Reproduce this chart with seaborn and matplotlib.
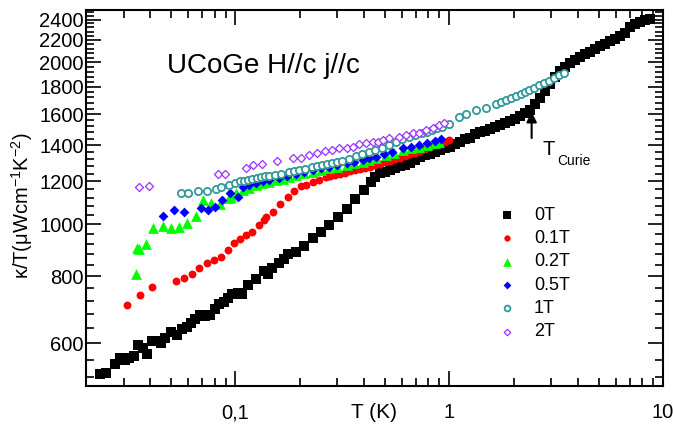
import numpy as np
import matplotlib
matplotlib.use('Agg')
import matplotlib.pyplot as plt
import matplotlib.ticker as mticker
import seaborn as sns

# values (T in K, kappa/T in uW cm^-1 K^-2)
T_0T = [0.02315, 0.02487, 0.02729, 0.02879, 0.03040, 0.03172, 0.03348, 0.03495, 0.03688, 0.03868,
        0.04050, 0.04228, 0.04462, 0.04674, 0.04969, 0.05341, 0.05635, 0.05946, 0.06229, 0.06502,
        0.06863, 0.07242, 0.07642, 0.08004, 0.08356, 0.08818, 0.09244, 0.09652, 0.1025, 0.1070,
        0.1150, 0.1249, 0.1356, 0.1419, 0.1489, 0.1606, 0.1694, 0.1755, 0.1921, 0.2101,
        0.2297, 0.2514, 0.2750, 0.3030, 0.3312, 0.3637, 0.4006, 0.4319, 0.4510, 0.4760,
        0.5022, 0.5302, 0.5595, 0.5902, 0.6229, 0.6573, 0.6937, 0.7320, 0.7725, 0.8151,
        0.8602, 0.9078, 0.9579, 1.011, 1.067, 1.126, 1.188, 1.254, 1.323, 1.396,
        1.473, 1.554, 1.641, 1.731, 1.827, 1.928, 2.034, 2.147, 2.265, 2.390,
        2.522, 2.662, 2.809, 2.965, 3.128, 3.301, 3.484, 3.676, 3.880, 4.094,
        4.321, 4.560, 4.811, 5.077, 5.358, 5.653, 5.966, 6.296, 6.643, 7.011,
        7.398, 7.806, 8.238, 8.694]
K_0T = [526, 529, 549, 563, 559, 564, 569, 596, 588, 573,
        606, 606, 600, 613, 631, 622, 637, 643, 655, 665,
        677, 675, 677, 694, 710, 717, 728, 741, 743, 740,
        770, 789, 818, 807, 828, 848, 860, 880, 886, 911,
        941, 966, 996, 1032, 1066, 1111, 1157, 1197, 1225, 1244,
        1252, 1263, 1271, 1282, 1290, 1301, 1315, 1332, 1344, 1352,
        1361, 1373, 1384, 1393, 1408, 1424, 1439, 1448, 1470, 1480,
        1489, 1502, 1515, 1528, 1541, 1554, 1571, 1588, 1608, 1632,
        1671, 1715, 1767, 1821, 1876, 1925, 1958, 1992, 2018, 2044,
        2070, 2092, 2115, 2142, 2165, 2188, 2212, 2236, 2265, 2323,
        2359, 2379, 2394, 2404]

T_01T = [0.03118, 0.03571, 0.04080, 0.05283, 0.05734, 0.06249, 0.06788, 0.07343, 0.07918, 0.08575,
         0.09205, 0.09893, 0.1052, 0.1122, 0.1192, 0.1295, 0.1366, 0.1392, 0.1494, 0.1618,
         0.1755, 0.1887, 0.2028, 0.2135, 0.2297, 0.2468, 0.2653, 0.2779, 0.2934, 0.3096,
         0.3266, 0.3447, 0.3637, 0.3838, 0.4050, 0.4273, 0.4510, 0.4760, 0.5022, 0.5302,
         0.5595, 0.5902, 0.6229, 0.6573, 0.6937, 0.7320, 0.7725, 0.8151, 0.8602, 0.9078,
         0.9579, 1.0]
K_01T = [707, 738, 763, 784, 793, 807, 830, 845, 857, 868,
         895, 923, 938, 954, 968, 996, 1017, 1032, 1054, 1089,
         1124, 1154, 1177, 1182, 1198, 1207, 1221, 1227, 1233, 1240,
         1247, 1253, 1260, 1266, 1272, 1279, 1287, 1294, 1303, 1311,
         1321, 1329, 1338, 1348, 1358, 1368, 1379, 1390, 1401, 1413,
         1424, 1433]

T_02T = [0.03436, 0.03473, 0.03552, 0.03808, 0.04129, 0.04575, 0.05012, 0.05474, 0.05965, 0.06523,
         0.07047, 0.07725, 0.08510, 0.09305, 0.09548, 0.1011, 0.1082, 0.1162, 0.1249, 0.1337,
         0.1442, 0.1554, 0.1663, 0.1788, 0.1921, 0.2101, 0.2297, 0.2522, 0.2750, 0.2997,
         0.3312, 0.3598, 0.3935, 0.4229, 0.4545, 0.5060, 0.5534, 0.6050, 0.6643, 0.7242,
         0.7893, 0.8602, 0.8983]
K_02T = [809, 904, 897, 917, 982, 992, 983, 987, 1003, 1037,
         1110, 1093, 1088, 1116, 1124, 1142, 1157, 1169, 1182, 1190,
         1199, 1206, 1212, 1223, 1233, 1242, 1251, 1260, 1269, 1278,
         1287, 1297, 1305, 1315, 1325, 1344, 1358, 1373, 1383, 1392,
         1402, 1414, 1422]

T_05T = [0.04575, 0.05160, 0.05746, 0.06938, 0.07477, 0.08064, 0.08647, 0.09426, 0.1025, 0.1084,
         0.1162, 0.1253, 0.1344, 0.1442, 0.1606, 0.1750, 0.1928, 0.2101, 0.2297, 0.2522,
         0.2750, 0.2997, 0.3312, 0.3598, 0.3935, 0.4229, 0.4545, 0.4969, 0.5416, 0.6050,
         0.6643, 0.7242, 0.7893, 0.8602, 0.9176]
K_05T = [1036, 1064, 1053, 1069, 1062, 1077, 1110, 1142, 1124, 1172,
         1182, 1192, 1200, 1206, 1216, 1228, 1241, 1249, 1260, 1269,
         1278, 1287, 1297, 1305, 1315, 1325, 1334, 1349, 1364, 1382,
         1390, 1402, 1414, 1429, 1441]

T_1T = [0.05593, 0.06031, 0.06715, 0.07358, 0.08151, 0.08602, 0.09305, 0.1000, 0.1055, 0.1102,
        0.1150, 0.1201, 0.1267, 0.1323, 0.1381, 0.1442, 0.1538, 0.1641, 0.1788, 0.1887,
        0.1991, 0.2125, 0.2290, 0.2416, 0.2549, 0.2692, 0.2840, 0.2997, 0.3162, 0.3409,
        0.3677, 0.3922, 0.4229, 0.4510, 0.4863, 0.5244, 0.5654, 0.6030, 0.6503, 0.6937,
        0.7476, 0.7893, 0.8329, 0.8788, 0.9275, 1.0, 1.1136, 1.2005, 1.3373, 1.4892,
        1.6585, 1.750, 1.8466, 1.949, 2.0565, 2.170, 2.265, 2.3645, 2.495, 2.634,
        2.779, 2.933, 3.095, 3.266, 3.446]
K_1T = [1142, 1144, 1152, 1153, 1164, 1170, 1182, 1194, 1200, 1205,
        1210, 1213, 1218, 1223, 1228, 1231, 1236, 1241, 1249, 1255,
        1260, 1268, 1276, 1282, 1287, 1293, 1298, 1304, 1312, 1324,
        1338, 1349, 1364, 1375, 1387, 1405, 1424, 1439, 1454, 1463,
        1476, 1486, 1495, 1508, 1518, 1538, 1581, 1601, 1629, 1646,
        1675, 1687, 1700, 1716, 1733, 1748, 1761, 1774, 1793, 1812,
        1828, 1844, 1868, 1892, 1908]

T_2T = [0.03532, 0.03935, 0.08283, 0.08981, 0.1122, 0.1214, 0.1327, 0.1563, 0.1853, 0.2019,
        0.2201, 0.2411, 0.2628, 0.2834, 0.3062, 0.3312, 0.3532, 0.3797, 0.4080, 0.4382,
        0.4624, 0.4879, 0.5244, 0.5840, 0.6275, 0.6738, 0.7242, 0.7782, 0.8356, 0.8983,
        0.9476]
K_2T = [1172, 1175, 1238, 1240, 1269, 1286, 1294, 1309, 1328, 1328,
        1344, 1353, 1365, 1373, 1383, 1383, 1392, 1408, 1413, 1422,
        1422, 1433, 1443, 1453, 1463, 1474, 1478, 1495, 1511, 1528,
        1539]

x_ticks = [0.1, 1, 10]
x_tick_labels = ['0,1', '1', '10']
y_ticks = [600, 800, 1000, 1200, 1400, 1600, 1800, 2000, 2200, 2400]
y_minor = [v for v in range(520, 2500, 40) if v not in y_ticks]
T_curie = 2.43

sns.set_style('ticks')
plt.rcParams['font.family'] = ['Liberation Sans', 'DejaVu Sans']
plt.rcParams['mathtext.fontset'] = 'custom'
plt.rcParams['mathtext.rm'] = 'Liberation Sans'
plt.rcParams['mathtext.it'] = 'Liberation Sans:italic'
plt.rcParams['mathtext.bf'] = 'Liberation Sans:bold'
plt.rcParams['text.color'] = 'black'
plt.rcParams['axes.labelcolor'] = 'black'
plt.rcParams['xtick.color'] = 'black'
plt.rcParams['ytick.color'] = 'black'

fig = plt.figure(figsize=(6.73, 4.30), dpi=100)
ax = fig.add_axes([0.1278, 0.1023, 0.8573, 0.8744])

sns.scatterplot(x=T_0T, y=K_0T, marker='s', s=50, color='black', edgecolor='black', linewidth=0, label='0T', ax=ax)
sns.scatterplot(x=T_01T, y=K_01T, marker='o', s=32, color='#ff0000', edgecolor='#ff0000', linewidth=0, label='0.1T', ax=ax)
sns.scatterplot(x=T_02T, y=K_02T, marker='^', s=60, color='#00ff00', edgecolor='#00ff00', linewidth=0, label='0.2T', ax=ax)
sns.scatterplot(x=T_05T, y=K_05T, marker='D', s=25, color='#0000ff', edgecolor='#0000ff', linewidth=0, label='0.5T', ax=ax)
sns.scatterplot(x=T_1T, y=K_1T, marker='o', s=27, color='white', edgecolor='#339999', linewidth=1.3, label='1T', ax=ax)
sns.scatterplot(x=T_2T, y=K_2T, marker='D', s=17, color='white', edgecolor='#9933ff', linewidth=0.9, label='2T', ax=ax)

ax.set_xscale('log')
ax.set_yscale('log')
ax.set_xlim(0.02, 10)
ax.set_ylim(500, 2500)

ax.xaxis.set_major_locator(mticker.FixedLocator(x_ticks))
ax.xaxis.set_major_formatter(mticker.FixedFormatter(x_tick_labels))
ax.xaxis.set_minor_locator(mticker.LogLocator(base=10, subs=np.arange(2, 10)))
ax.xaxis.set_minor_formatter(mticker.NullFormatter())
ax.yaxis.set_major_locator(mticker.FixedLocator(y_ticks))
ax.yaxis.set_major_formatter(mticker.FixedFormatter([str(v) for v in y_ticks]))
ax.yaxis.set_minor_locator(mticker.FixedLocator(y_minor))
ax.yaxis.set_minor_formatter(mticker.NullFormatter())

ax.tick_params(which='both', direction='in', top=True, right=True, width=1.2, color='black')
ax.tick_params(which='major', length=10.5, labelsize=14.5, labelcolor='black')
ax.tick_params(which='minor', length=5.8)
ax.tick_params(axis='x', which='major', pad=12.5)
ax.tick_params(axis='y', which='major', pad=1.5)
for sp in ax.spines.values():
    sp.set_linewidth(1.5)
    sp.set_color('black')

ax.set_xlabel('T (K)', fontsize=15, color='black')
ax.xaxis.set_label_coords(0.5, -0.045)
ax.set_ylabel('κ/T(μWcm$^{-1}$K$^{-2}$)', fontsize=14.5, color='black')
ax.yaxis.set_label_coords(-0.088, 0.48)

ax.text(0.14, 0.832, 'UCoGe H//c j//c', transform=ax.transAxes, fontsize=20, va='baseline', color='black')

# Curie temperature marker
ax.annotate('', xy=(T_curie, 1617), xytext=(T_curie, 1445),
            arrowprops=dict(arrowstyle='-|>', color='black', lw=1.5, mutation_scale=15, shrinkA=0, shrinkB=0))
ax.text(2.72, 1344, 'T', fontsize=14.5, va='baseline', color='black')
ax.text(3.186, 1287, 'Curie', fontsize=10, va='baseline', color='black')

ax.legend(loc='upper left', bbox_to_anchor=(0.714, 0.477), frameon=False, fontsize=13,
          handlelength=1.0, handletextpad=1.0, labelspacing=0.35, borderpad=0, borderaxespad=0,
          markerscale=0.8)

fig.savefig('out.png', dpi=100)
